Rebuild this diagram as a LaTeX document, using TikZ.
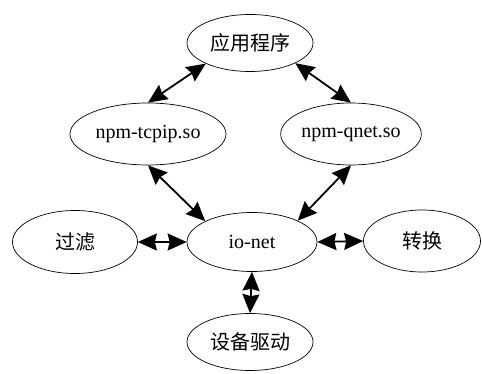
\documentclass[tikz,border=0pt]{standalone}
\usepackage{fontspec}
\setmainfont{Liberation Serif}
\newfontfamily\cjk{Noto Sans CJK SC}
\usetikzlibrary{shapes.geometric,arrows.meta}
\begin{document}
\begin{tikzpicture}[x=1pt,y=-1pt,
  oval/.style={ellipse,draw,line width=0.7pt,inner sep=0pt,
    font=\fontsize{20}{24}\selectfont},
  link/.style={line width=1.8pt,
    {Stealth[length=19pt,width=17pt,inset=2pt]}-{Stealth[length=19pt,width=17pt,inset=2pt]}}]
\useasboundingbox (0,0) rectangle (482,374);
% modules
\node[oval,minimum width=126pt,minimum height=57pt] (app) at (250,43) {\cjk 应用程序};
\node[oval,minimum width=156pt,minimum height=62pt] (tcpip) at (148,134) {npm-tcpip.so};
\node[oval,minimum width=128pt,minimum height=62pt] (qnet) at (351,134) {npm-qnet.so};
\node[oval,minimum width=125pt,minimum height=63pt] (filter) at (75,242) {\cjk 过滤};
\node[oval,minimum width=130pt,minimum height=59pt] (ionet) at (252,242) {io-net};
\node[oval,minimum width=117pt,minimum height=62pt] (conv) at (422,241) {\cjk 转换};
\node[oval,minimum width=126pt,minimum height=57pt] (drive) at (250,342) {\cjk 设备驱动};
% links
\draw[link] (app.205) -- (tcpip.north);
\draw[link] (app.336) -- (qnet.north);
\draw[link] (tcpip.south) -- (ionet.156);
\draw[link] (qnet.south) -- (ionet.25);
\draw[link] (filter.east) -- (ionet.west);
\draw[link] (ionet.east) -- (conv.west);
\draw[link] (ionet.south) -- (drive.north);
\end{tikzpicture}
\end{document}
